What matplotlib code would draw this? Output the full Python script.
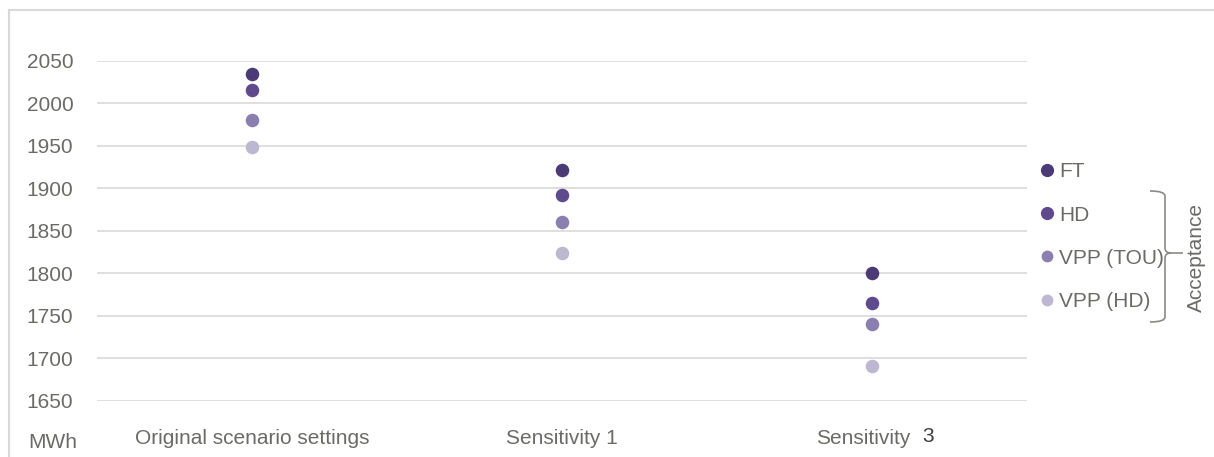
import matplotlib.pyplot as plt
from matplotlib.lines import Line2D
from matplotlib.path import Path
from matplotlib.patches import PathPatch
from matplotlib.transforms import ScaledTranslation

# scenario energy results (MWh)
scenarios = ['Original scenario settings', 'Sensitivity 1', 'Sensitivity 3']
series = ['FT', 'HD', 'VPP (TOU)', 'VPP (HD)']
ft = [2034, 1921, 1800]
hd = [2015, 1892, 1765]
vpp_tou = [1980, 1860, 1741]
vpp_hd = [1949, 1824, 1691]
colors = ['#4b3a75', '#5f4a8e', '#8a7fae', '#bdb7d1']
yticks = [1650, 1700, 1750, 1800, 1850, 1900, 1950, 2000, 2050]

W, H = 1214, 457
plt.rcParams['font.family'] = ['Liberation Sans', 'DejaVu Sans']
txt = '#6b6b66'
fs = 15

fig = plt.figure(figsize=(W / 100, H / 100), dpi=100)
ax = fig.add_axes([97 / W, (H - 401) / H, 930 / W, 340.3 / H])

x = range(len(scenarios))
for vals, lab, c in zip([ft, hd, vpp_tou, vpp_hd], series, colors):
    ax.scatter(x, vals, s=95, color=c, label=lab, zorder=3, clip_on=False,
               linewidths=0)

ax.set_xlim(-0.5, 2.5)
ax.set_ylim(1650, 2050)
ax.set_yticks(yticks)
ax.yaxis.grid(True, color='#d9d9d9', linewidth=1.2)
ax.set_axisbelow(True)
for s in ax.spines.values():
    s.set_visible(False)
ax.tick_params(axis='y', length=0, pad=17, labelsize=fs, labelcolor=txt)
ax.tick_params(axis='x', length=0, pad=20, labelsize=fs, labelcolor=txt)
ax.set_xticks(list(x))
# last category: word as tick label, trailing "3" set on its own
word, num = scenarios[2].rsplit(' ', 1)
ax.set_xticklabels(scenarios[:2] + [word])
last = ax.get_xticklabels()[2]
last.set_transform(last.get_transform()
                   + ScaledTranslation(-0.085, 0, fig.dpi_scale_trans))
fig.text(922 / W, 1 - 437 / H, num, fontsize=fs, color='#3f3f3f',
         ha='left', va='center')
fig.text(28 / W, 1 - 443 / H, 'MWh', fontsize=fs, color=txt,
         ha='left', va='center')

# legend entries
handles = [Line2D([], [], marker='o', linestyle='', markersize=s,
                  markerfacecolor=c, markeredgewidth=0)
           for c, s in zip(colors, [9.5, 9.5, 8.5, 8.5])]
leg = fig.legend(handles, series, loc='upper left',
                 bbox_to_anchor=(1032 / W, 1 - 154 / H), frameon=False,
                 fontsize=fs, handlelength=0.6, handletextpad=0.3,
                 labelspacing=1.16, borderaxespad=0)
for t in leg.get_texts():
    t.set_color(txt)

# brace grouping the acceptance-based series
def px(xp, yp):
    return (xp / W, 1 - yp / H)

verts = [px(1150, 191), px(1165, 191), px(1165, 196),
         px(1165, 248), px(1165, 253), px(1171, 253), px(1183, 253),
         px(1171, 253), px(1165, 253), px(1165, 258),
         px(1165, 317), px(1165, 322), px(1150, 322)]
codes = [Path.MOVETO, Path.CURVE3, Path.CURVE3,
         Path.LINETO, Path.CURVE3, Path.CURVE3, Path.LINETO,
         Path.MOVETO, Path.CURVE3, Path.CURVE3,
         Path.LINETO, Path.CURVE3, Path.CURVE3]
fig.patches.append(PathPatch(Path(verts, codes), transform=fig.transFigure,
                             fill=False, edgecolor='#8a8a86', linewidth=1.2))
fig.text(1196 / W, 1 - 257 / H, 'Acceptance', rotation=90, fontsize=fs,
         color=txt, ha='center', va='center')

# outer chart frame (top and left edges)
fig.add_artist(Line2D([9 / W, 1], [1 - 10 / H, 1 - 10 / H],
                      transform=fig.transFigure, color='#d9d9d9', linewidth=1.5))
fig.add_artist(Line2D([9 / W, 9 / W], [0, 1 - 10 / H],
                      transform=fig.transFigure, color='#d9d9d9', linewidth=1.5))

fig.savefig('out.png', dpi=100, facecolor='white')
